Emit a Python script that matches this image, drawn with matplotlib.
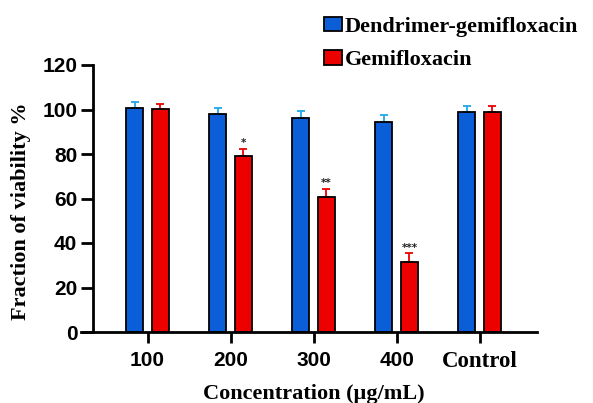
import matplotlib
matplotlib.use("Agg")
import matplotlib.pyplot as plt
import numpy as np
from matplotlib.patches import Patch

categories = ["100", "200", "300", "400", "Control"]
dendrimer_vals = [100.5, 97.8, 96.0, 94.5, 98.9]
dendrimer_err = [3.0, 2.7, 3.3, 3.0, 2.7]
gemi_vals = [100.2, 79.1, 60.8, 31.3, 98.9]
gemi_err = [2.1, 3.1, 3.6, 4.1, 2.7]
gemi_sig = ["", "*", "**", "***", ""]
series_names = ["Dendrimer-gemifloxacin", "Gemifloxacin"]
y_ticks = [0, 20, 40, 60, 80, 100, 120]

blue = "#0a5fd9"
blue_err = "#1ea8ea"
red = "#ec0000"
serif = "Liberation Serif"
sans = "Liberation Sans"

fig = plt.figure(figsize=(5.93, 4.03), dpi=100)
ax = fig.add_axes([80.7 / 593, 71 / 403, (537 - 80.7) / 593, 267 / 403])

x = np.arange(len(categories))
w = 0.205
off = 0.154
ax.bar(x - off, dendrimer_vals, w, color=blue, edgecolor="black", linewidth=1.3, zorder=2)
ax.bar(x + off, gemi_vals, w, color=red, edgecolor="black", linewidth=1.3, zorder=2)
ax.errorbar(x - off, dendrimer_vals, yerr=[np.zeros(len(x)), dendrimer_err], fmt="none",
            ecolor=blue_err, elinewidth=1.3, capsize=3.2, capthick=1.3, zorder=1)
ax.errorbar(x + off, gemi_vals, yerr=[np.zeros(len(x)), gemi_err], fmt="none",
            ecolor=red, elinewidth=1.3, capsize=3.2, capthick=1.3, zorder=1)

for xi, v, e, s in zip(x, gemi_vals, gemi_err, gemi_sig):
    if s:
        ax.text(xi + off, v + e + 0.3, s, ha="center", va="bottom", fontsize=7.5,
                color="#222222", fontweight="bold")

ax.set_xlim(-0.805, 4.69)
ax.set_ylim(0, 120)
ax.set_yticks(y_ticks)
ax.set_xticks(x)
ax.set_xticklabels(categories)

for sp in ["top", "right"]:
    ax.spines[sp].set_visible(False)
ax.spines["left"].set_position(("axes", 0.026))
ax.spines["left"].set_linewidth(2)
ax.spines["bottom"].set_linewidth(2)
ax.tick_params(axis="y", length=8.5, width=2, pad=2.5)
ax.tick_params(axis="x", length=8, width=2, pad=6)

for lbl in ax.get_yticklabels():
    lbl.set_fontfamily(sans)
    lbl.set_fontweight("bold")
    lbl.set_fontsize(15)
for lbl in ax.get_xticklabels():
    if lbl.get_text() == "Control":
        lbl.set_fontfamily(serif)
        lbl.set_fontsize(16.5)
    else:
        lbl.set_fontfamily(sans)
        lbl.set_fontsize(15)
    lbl.set_fontweight("bold")

ax.set_xlabel("Concentration (µg/mL)", fontfamily=serif, fontweight="bold", fontsize=16)
ax.xaxis.set_label_coords((314 - 80.7) / (537 - 80.7), -(384 - 332) / 267)
ax.set_ylabel("Fraction of viability %", fontfamily=serif, fontweight="bold", fontsize=16)
ax.yaxis.set_label_coords((31 - 80.7) / (537 - 80.7), (332 - 211) / 267)

handles = [Patch(facecolor=blue, edgecolor="black", linewidth=1.3),
           Patch(facecolor=red, edgecolor="black", linewidth=1.3)]
fig.legend(handles, series_names, loc="upper left", bbox_to_anchor=(324 / 593, 1 - 17 / 403),
           frameon=False, prop={"family": serif, "weight": "bold", "size": 16},
           handlelength=0.8, handleheight=0.6, handletextpad=0.15, labelspacing=0.6,
           borderpad=0, borderaxespad=0)

fig.savefig("out.png", dpi=100)
